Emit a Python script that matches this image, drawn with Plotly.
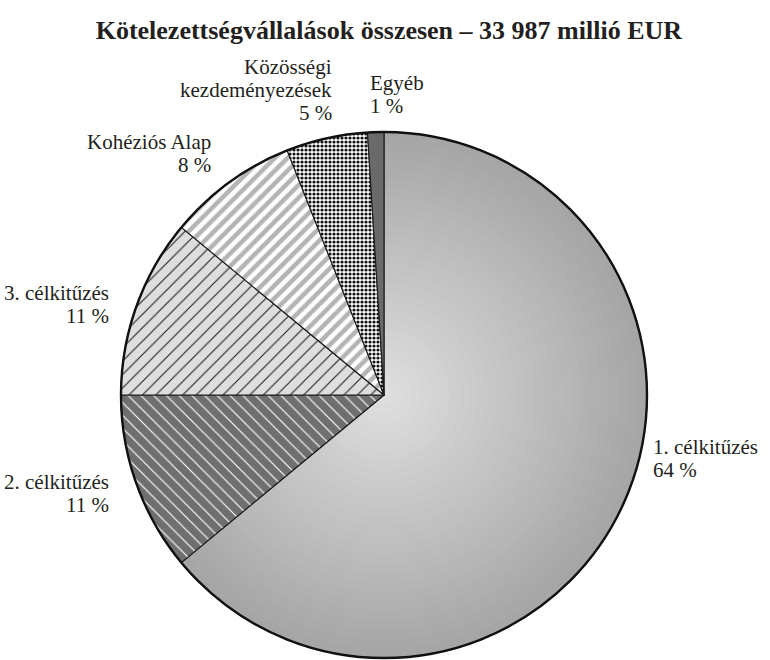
import plotly.graph_objects as go

# Commitment shares (percent of the 33 987 million EUR total)
categories = ["1. célkitűzés", "2. célkitűzés", "3. célkitűzés",
              "Kohéziós Alap", "Közösségi<br>kezdeményezések", "Egyéb"]
shares = [64, 11, 11, 8, 5, 1]
title_text = "Kötelezettségvállalások összesen – 33 987 millió EUR"

W, H = 770, 660
CX, CY, R = 384, 395, 263  # pie centre and radius in pixels
domain = dict(x=[(CX - R) / W, (CX + R) / W],
              y=[1 - (CY + R) / H, 1 - (CY - R) / H])

CLEAR = "rgba(0,0,0,0)"
common = dict(labels=categories, values=shares, sort=False,
              direction="clockwise", rotation=0, textinfo="none",
              hoverinfo="skip", showlegend=False, domain=domain)

fig = go.Figure()

# Radial grey gradient for the first slice, built from concentric rings
N_RINGS = 28
for i in range(N_RINGS):
    t = i / (N_RINGS - 1)
    g = round(222 - (222 - 166) * t)
    cols = [f"rgb({g},{g},{g})"] + [CLEAR] * (len(shares) - 1)
    fig.add_trace(go.Pie(hole=min(i / N_RINGS, 0.999),
                         marker=dict(colors=cols, line=dict(width=0)),
                         **common))

# Patterned slices and thin slice borders
fig.add_trace(go.Pie(
    marker=dict(
        colors=[CLEAR, "#6f6f6f", "#dedede", "#ffffff", "#ffffff", "#6a6a6a"],
        line=dict(color="#1a1a1a", width=1.1),
        pattern=dict(
            shape=["", "\\", "/", "/", ".", ""],
            fgcolor=["#000000", "#ffffff", "#1a1a1a", "#b4b4b4", "#111111", "#000000"],
            bgcolor=[CLEAR, "#6f6f6f", "#dedede", "#ffffff", "#ffffff", "#6a6a6a"],
            size=[8, 9, 9.5, 9, 4, 8],
            solidity=[0.2, 0.13, 0.11, 0.5, 0.5, 0.2],
            fillmode="replace",
        ),
    ),
    **common))

# Heavier outer rim
fig.add_trace(go.Pie(labels=["rim"], values=[1], sort=False, textinfo="none",
                     hoverinfo="skip", showlegend=False, domain=domain,
                     marker=dict(colors=[CLEAR],
                                 line=dict(color="#111111", width=2.4))))

# Slice labels: x px, y px of the first line, alignment
label_pos = [
    (651, 447, "left"),
    (111, 482, "right"),
    (111, 293, "right"),
    (213, 142, "right"),
    (334, 67, "right"),
    (368, 83, "left"),
]
LINE_STEP = 23
for name, val, (lx, ly, anc) in zip(categories, shares, label_pos):
    lines = name.split("<br>") + [f"{val} %"]
    for k, line in enumerate(lines):
        fig.add_annotation(
            x=lx / W, y=1 - (ly + k * LINE_STEP) / H,
            xref="paper", yref="paper",
            xanchor=anc, yanchor="middle", showarrow=False,
            text=line,
            font=dict(family="Liberation Serif", size=21, color="#231f20"),
        )

fig.update_layout(
    width=W, height=H,
    margin=dict(l=0, r=0, t=0, b=0),
    paper_bgcolor="white", plot_bgcolor="white",
    title=dict(text=f"<b>{title_text}</b>", x=0.505, y=1 - 30 / H,
               xanchor="center", yanchor="middle",
               font=dict(family="Liberation Serif", size=26, color="#231f20")),
)

fig.write_html("out.html")
